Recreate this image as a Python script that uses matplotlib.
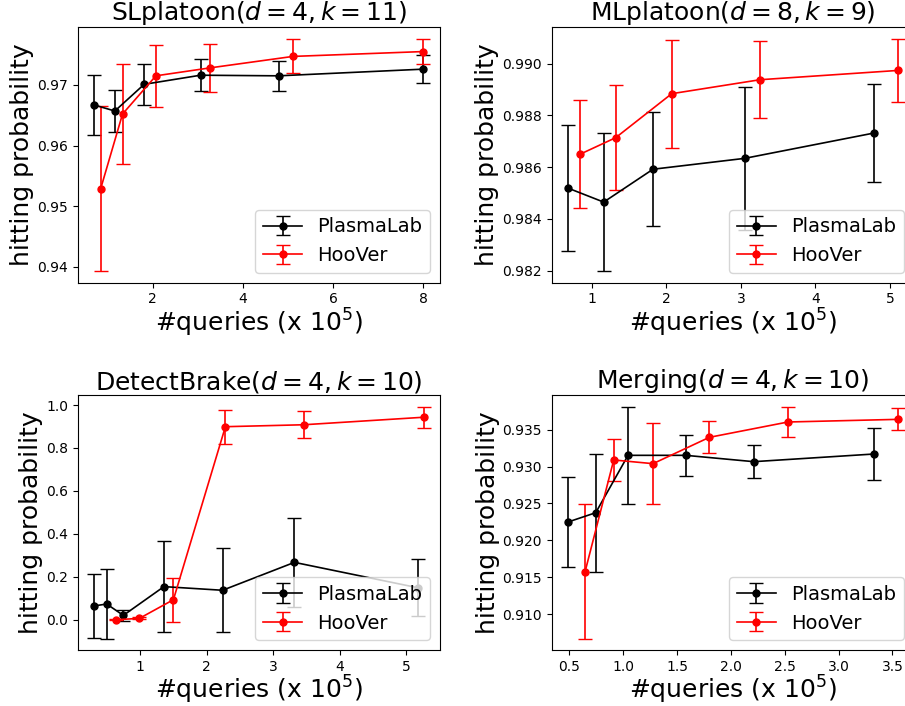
import matplotlib
matplotlib.use("Agg")
import matplotlib.pyplot as plt

# ---- data ----
titles = [r"SLplatoon$(d=4, k=11)$", r"MLplatoon$(d=8, k=9)$",
          r"DetectBrake$(d=4, k=10)$", r"Merging$(d=4, k=10)$"]

sl_pl_x = [0.70, 1.16, 1.81, 3.06, 4.79, 8.0]
sl_pl_y = [0.9667, 0.9657, 0.9701, 0.9716, 0.9715, 0.9726]
sl_pl_e = [0.0050, 0.0034, 0.0034, 0.0026, 0.0025, 0.0023]
sl_hv_x = [0.846, 1.33, 2.07, 3.26, 5.11, 8.0]
sl_hv_y = [0.9529, 0.9652, 0.9715, 0.9728, 0.9747, 0.9755]
sl_hv_e = [0.0136, 0.0082, 0.0051, 0.0039, 0.0028, 0.0020]

ml_pl_x = [0.683, 1.161, 1.822, 3.05, 4.785]
ml_pl_y = [0.98519, 0.98465, 0.98592, 0.98634, 0.98732]
ml_pl_e = [0.00244, 0.00267, 0.00221, 0.00277, 0.00191]
ml_hv_x = [0.844, 1.322, 2.073, 3.257, 5.111]
ml_hv_y = [0.98650, 0.98714, 0.98884, 0.98938, 0.98974]
ml_hv_e = [0.00209, 0.00202, 0.00208, 0.00149, 0.00123]

db_pl_x = [0.31, 0.50, 0.75, 1.36, 2.24, 3.32, 5.17]
db_pl_y = [0.064, 0.073, 0.020, 0.154, 0.137, 0.267, 0.149]
db_pl_e = [0.151, 0.163, 0.026, 0.2135, 0.196, 0.207, 0.133]
db_hv_x = [0.646, 0.991, 1.502, 2.283, 3.459, 5.26]
db_hv_y = [0.0, 0.006, 0.093, 0.899, 0.908, 0.943]
db_hv_e = [0.002, 0.005, 0.103, 0.079, 0.064, 0.050]

mg_pl_x = [0.488, 0.745, 1.045, 1.58, 2.212, 3.33]
mg_pl_y = [0.92248, 0.92374, 0.93152, 0.93152, 0.93066, 0.9317]
mg_pl_e = [0.0061, 0.0080, 0.0066, 0.0028, 0.0022, 0.0035]
mg_hv_x = [0.646, 0.912, 1.277, 1.80, 2.53, 3.556]
mg_hv_y = [0.91574, 0.93089, 0.93039, 0.93396, 0.93604, 0.9364]
mg_hv_e = [0.00915, 0.00287, 0.00547, 0.00219, 0.00197, 0.00151]

series = [
    (sl_pl_x, sl_pl_y, sl_pl_e, sl_hv_x, sl_hv_y, sl_hv_e),
    (ml_pl_x, ml_pl_y, ml_pl_e, ml_hv_x, ml_hv_y, ml_hv_e),
    (db_pl_x, db_pl_y, db_pl_e, db_hv_x, db_hv_y, db_hv_e),
    (mg_pl_x, mg_pl_y, mg_pl_e, mg_hv_x, mg_hv_y, mg_hv_e),
]

xticks = [[2, 4, 6, 8], [1, 2, 3, 4, 5], [1, 2, 3, 4, 5],
          [0.5, 1.0, 1.5, 2.0, 2.5, 3.0, 3.5]]
yticks = [[0.94, 0.95, 0.96, 0.97],
          [0.982, 0.984, 0.986, 0.988, 0.990],
          [0.0, 0.2, 0.4, 0.6, 0.8, 1.0],
          [0.910, 0.915, 0.920, 0.925, 0.930, 0.935]]
xlims = [(0.337, 8.37), (0.464, 5.32), (0.065, 5.507), (0.336, 3.70)]
ylims = [(0.9374, 0.9796), (0.981535, 0.99143), (-0.1413, 1.0466), (0.90512, 0.9397)]
yfmt = ["%.2f", "%.3f", "%.1f", "%.3f"]

fig = plt.figure(figsize=(9.05, 7.06), dpi=100)
W = 0.4003
positions = [(0.0859, 0.5996, W, 0.3626), (0.6096, 0.5996, W, 0.3626),
             (0.0859, 0.0793, W, 0.3612), (0.6096, 0.0793, W, 0.3612)]

for i in range(4):
    ax = fig.add_axes(positions[i])
    px, py, pe, hx, hy, he = series[i]
    ax.errorbar(px, py, yerr=pe, color="black", marker="o", markersize=5,
                linewidth=1.2, capsize=5, label="PlasmaLab")
    ax.errorbar(hx, hy, yerr=he, color="red", marker="o", markersize=5,
                linewidth=1.2, capsize=5, label="HooVer")
    ax.set_xlim(*xlims[i])
    ax.set_ylim(*ylims[i])
    ax.set_xticks(xticks[i])
    ax.set_yticks(yticks[i])
    ax.set_yticklabels([yfmt[i] % v for v in yticks[i]])
    ax.tick_params(labelsize=10)
    ax.set_title(titles[i], fontsize=18, pad=4)
    ax.set_xlabel(r"#queries (x $10^5$)", fontsize=18, labelpad=0)
    ax.set_ylabel("hitting probability", fontsize=18, labelpad=2)
    ax.legend(loc="lower right", fontsize=14)

fig.savefig("out.png", dpi=100)
